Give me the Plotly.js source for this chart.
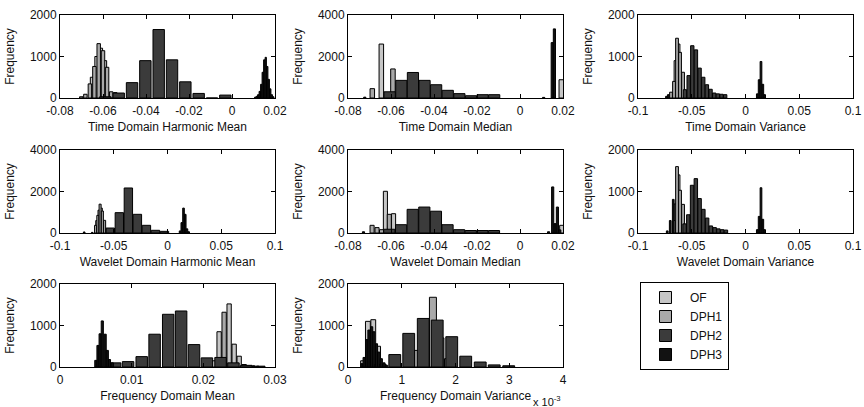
<!DOCTYPE html>
<html><head><meta charset="utf-8">
<script src="https://cdn.plot.ly/plotly-3.0.1.min.js"></script>
<style>html,body{margin:0;padding:0;background:#fff}#chart{width:864px;height:407px}</style>
</head><body><div id="chart"></div>
<script>
// ---------- DATA (bin centres and counts) ----------
const seriesNames = ['OF', 'DPH1', 'DPH2', 'DPH3'];
const panelTitles = ['Time Domain Harmonic Mean', 'Time Domain Median', 'Time Domain Variance',
  'Wavelet Domain Harmonic Mean', 'Wavelet Domain Median', 'Wavelet Domain Variance',
  'Frequency Domain Mean', 'Frequency Domain Variance'];

// 1 Time Domain Harmonic Mean
const tdhm_OF_x = [-0.0651, -0.0630, -0.0610, -0.0591];
const tdhm_OF_y = [500, 1000, 1200, 900];
const tdhm_DPH1_x = [-0.0701, -0.0682, -0.0661, -0.0640, -0.0620, -0.0600, -0.0581, -0.0562, -0.0543];
const tdhm_DPH1_y = [30, 90, 340, 760, 1310, 1140, 740, 150, 130];
const tdhm_DPH2_x = [-0.0589, -0.0527, -0.0465, -0.0403, -0.0341, -0.0279, -0.0217, -0.0155, -0.0093, -0.0031];
const tdhm_DPH2_y = [30, 120, 370, 900, 1650, 920, 390, 110, 0, 70];
const tdhm_DPH3_x = [0.0108, 0.0115, 0.0122, 0.0129, 0.0136, 0.0143, 0.0150, 0.0157, 0.0164, 0.0171, 0.0178, 0.0185, 0.0192];
const tdhm_DPH3_y = [20, 40, 80, 160, 330, 620, 920, 980, 760, 450, 220, 80, 30];

// 2 Time Domain Median
const tdmed_OF_x = [-0.0645, 0.0192];
const tdmed_OF_y = [2600, 880];
const tdmed_DPH1_x = [-0.0687, -0.0591];
const tdmed_DPH1_y = [450, 1400];
const tdmed_DPH2_x = [-0.0606, -0.0552, -0.0498, -0.0444, -0.0390, -0.0336, -0.0282, -0.0228, -0.0174, -0.0120];
const tdmed_DPH2_y = [300, 850, 1230, 850, 640, 370, 210, 110, 160, 160];
const tdmed_DPH3_x = [-0.0722, 0.0110, 0.0150, 0.0160];
const tdmed_DPH3_y = [40, 30, 2670, 3330];

// 3 Time Domain Variance
const tdvar_OF_x = [-0.0651, -0.0623];
const tdvar_OF_y = [900, 1300];
const tdvar_DPH1_x = [-0.0693, -0.0665, -0.0637, -0.0609, -0.0581];
const tdvar_DPH1_y = [140, 400, 1440, 1100, 620];
const tdvar_DPH2_x = [-0.0563, -0.0529, -0.0495, -0.0461, -0.0427, -0.0393, -0.0359, -0.0325, -0.0291, -0.0257, -0.0223, -0.0189];
const tdvar_DPH2_y = [200, 540, 1260, 1160, 720, 500, 320, 210, 120, 100, 90, 80];
const tdvar_DPH3_x = [-0.0735, -0.0718, 0.0110, 0.0127, 0.0144, 0.0161, 0.0178];
const tdvar_DPH3_y = [40, 80, 100, 440, 880, 330, 80];

// 4 Wavelet Domain Harmonic Mean
const wdhm_OF_x = [-0.0658, -0.0637, -0.0616];
const wdhm_OF_y = [600, 1100, 1200];
const wdhm_DPH1_x = [-0.0669, -0.0648, -0.0627, -0.0606, -0.0585, -0.0564];
const wdhm_DPH1_y = [370, 850, 1390, 1060, 610, 160];
const wdhm_DPH2_x = [-0.0532, -0.0448, -0.0364, -0.0280, -0.0196, -0.0112, -0.0028];
const wdhm_DPH2_y = [240, 980, 2170, 900, 370, 130, 80];
const wdhm_DPH3_x = [-0.0775, -0.0700, 0.0117, 0.0133, 0.0149, 0.0165, 0.0181, 0.0197];
const wdhm_DPH3_y = [50, 30, 100, 500, 1200, 900, 200, 60];

// 5 Wavelet Domain Median
const wdmed_OF_x = [-0.0626, -0.0588, 0.0194];
const wdmed_OF_y = [2010, 930, 370];
const wdmed_DPH1_x = [-0.0688, -0.0665, -0.0644, -0.0608];
const wdmed_DPH1_y = [370, 260, 160, 900];
const wdmed_DPH2_x = [-0.0608, -0.0553, -0.0499, -0.0445, -0.0391, -0.0337, -0.0283, -0.0229, -0.0175, -0.0121];
const wdmed_DPH2_y = [180, 400, 1140, 1250, 1050, 400, 160, 120, 120, 120];
const wdmed_DPH3_x = [-0.0728, 0.0133, 0.0152, 0.0163, 0.0174, 0.0185];
const wdmed_DPH3_y = [60, 60, 2220, 450, 1250, 150];

// 6 Wavelet Domain Variance
const wdvar_OF_x = [-0.0651, -0.0623];
const wdvar_OF_y = [700, 1400];
const wdvar_DPH1_x = [-0.0665, -0.0637, -0.0609, -0.0581];
const wdvar_DPH1_y = [300, 1600, 1030, 690];
const wdvar_DPH2_x = [-0.0567, -0.0532, -0.0497, -0.0462, -0.0427, -0.0392, -0.0357, -0.0322, -0.0287, -0.0252, -0.0217, -0.0182];
const wdvar_DPH2_y = [220, 440, 1150, 1310, 830, 570, 360, 170, 130, 100, 80, 70];
const wdvar_DPH3_x = [-0.0728, -0.0700, -0.0672, 0.0110, 0.0127, 0.0144, 0.0161, 0.0178];
const wdvar_DPH3_y = [50, 300, 810, 80, 400, 1090, 330, 80];

// 7 Frequency Domain Mean
const fdmean_OF_x = [0.0215, 0.0222, 0.0236, 0.0243, 0.0250, 0.0257];
const fdmean_OF_y = [150, 850, 1520, 550, 260, 60];
const fdmean_DPH1_x = [0.0229, 0.0264];
const fdmean_DPH1_y = [1320, 30];
const fdmean_DPH2_x = [0.0077, 0.0095, 0.0114, 0.0132, 0.0151, 0.0169, 0.0187, 0.0205, 0.0224, 0.0242, 0.0260, 0.0278];
const fdmean_DPH2_y = [100, 130, 250, 790, 1270, 1350, 540, 220, 230, 100, 40, 20];
const fdmean_DPH3_x = [0.0050, 0.0053, 0.0056, 0.0059, 0.0063, 0.0066, 0.0069, 0.0073, 0.0270, 0.0276];
const fdmean_DPH3_y = [160, 520, 800, 1110, 790, 400, 180, 100, 30, 20];

// 8 Frequency Domain Variance
const fdvar_OF_x = [0.00028, 0.00037, 0.00047, 0.00056];
const fdvar_OF_y = [150, 1100, 1140, 500];
const fdvar_DPH1_x = [0.00130, 0.00144, 0.00158, 0.00172, 0.00186];
const fdvar_DPH1_y = [400, 900, 1680, 700, 200];
const fdvar_DPH2_x = [0.00060, 0.00087, 0.00113, 0.00140, 0.00166, 0.00193, 0.00219, 0.00246, 0.00272, 0.00299];
const fdvar_DPH2_y = [60, 300, 810, 1170, 1130, 730, 260, 120, 50, 30];
const fdvar_DPH3_x = [0.00026, 0.00030, 0.00035, 0.00039, 0.00044, 0.00048, 0.00053, 0.00057, 0.00062, 0.00067, 0.00072];
const fdvar_DPH3_y = [80, 230, 660, 890, 970, 850, 560, 360, 200, 100, 40];

// tick values and labels
const tickV_a = [-0.08, -0.06, -0.04, -0.02, 0, 0.02];
const tickT_a = ['-0.08', '-0.06', '-0.04', '-0.02', '0', '0.02'];
const tickV_b = [-0.1, -0.05, 0, 0.05, 0.1];
const tickT_b = ['-0.1', '-0.05', '0', '0.05', '0.1'];
const tickV_c = [0, 0.01, 0.02, 0.03];
const tickT_c = ['0', '0.01', '0.02', '0.03'];
const tickV_d = [0, 0.001, 0.002, 0.003, 0.004];
const tickT_d = ['0', '1', '2', '3', '4'];
const yTick2k = [0, 1000, 2000];
const yTick4k = [0, 2000, 4000];

// ---------- STYLE / LAYOUT ----------
const colors = {OF: '#c6c6c6', DPH1: '#a9a9a9', DPH2: '#3b3b3b', DPH3: '#121212'};
const panels = [
  {d: {OF: [tdhm_OF_x, tdhm_OF_y], DPH1: [tdhm_DPH1_x, tdhm_DPH1_y], DPH2: [tdhm_DPH2_x, tdhm_DPH2_y], DPH3: [tdhm_DPH3_x, tdhm_DPH3_y]},
   w: {OF: 0.0016, DPH1: 0.0016, DPH2: 0.0053, DPH3: 0.0006}, xr: [-0.08, 0.02], yr: [0, 2000], tv: tickV_a, tt: tickT_a, yt: yTick2k},
  {d: {OF: [tdmed_OF_x, tdmed_OF_y], DPH1: [tdmed_DPH1_x, tdmed_DPH1_y], DPH2: [tdmed_DPH2_x, tdmed_DPH2_y], DPH3: [tdmed_DPH3_x, tdmed_DPH3_y]},
   w: {OF: 0.0021, DPH1: 0.0021, DPH2: 0.0052, DPH3: 0.001}, xr: [-0.08, 0.02], yr: [0, 4000], tv: tickV_a, tt: tickT_a, yt: yTick4k},
  {d: {OF: [tdvar_OF_x, tdvar_OF_y], DPH1: [tdvar_DPH1_x, tdvar_DPH1_y], DPH2: [tdvar_DPH2_x, tdvar_DPH2_y], DPH3: [tdvar_DPH3_x, tdvar_DPH3_y]},
   w: {OF: 0.0026, DPH1: 0.0026, DPH2: 0.0031, DPH3: 0.0016}, xr: [-0.1, 0.1], yr: [0, 2000], tv: tickV_b, tt: tickT_b, yt: yTick2k},
  {d: {OF: [wdhm_OF_x, wdhm_OF_y], DPH1: [wdhm_DPH1_x, wdhm_DPH1_y], DPH2: [wdhm_DPH2_x, wdhm_DPH2_y], DPH3: [wdhm_DPH3_x, wdhm_DPH3_y]},
   w: {OF: 0.0019, DPH1: 0.0019, DPH2: 0.0078, DPH3: 0.0015}, xr: [-0.1, 0.1], yr: [0, 4000], tv: tickV_b, tt: tickT_b, yt: yTick4k},
  {d: {OF: [wdmed_OF_x, wdmed_OF_y], DPH1: [wdmed_DPH1_x, wdmed_DPH1_y], DPH2: [wdmed_DPH2_x, wdmed_DPH2_y], DPH3: [wdmed_DPH3_x, wdmed_DPH3_y]},
   w: {OF: 0.0019, DPH1: 0.0019, DPH2: 0.0052, DPH3: 0.001}, xr: [-0.08, 0.02], yr: [0, 4000], tv: tickV_a, tt: tickT_a, yt: yTick4k},
  {d: {OF: [wdvar_OF_x, wdvar_OF_y], DPH1: [wdvar_DPH1_x, wdvar_DPH1_y], DPH2: [wdvar_DPH2_x, wdvar_DPH2_y], DPH3: [wdvar_DPH3_x, wdvar_DPH3_y]},
   w: {OF: 0.0026, DPH1: 0.0026, DPH2: 0.0032, DPH3: 0.0016}, xr: [-0.1, 0.1], yr: [0, 2000], tv: tickV_b, tt: tickT_b, yt: yTick2k},
  {d: {OF: [fdmean_OF_x, fdmean_OF_y], DPH1: [fdmean_DPH1_x, fdmean_DPH1_y], DPH2: [fdmean_DPH2_x, fdmean_DPH2_y], DPH3: [fdmean_DPH3_x, fdmean_DPH3_y]},
   w: {OF: 0.0006, DPH1: 0.0006, DPH2: 0.0016, DPH3: 0.0003}, xr: [0, 0.03], yr: [0, 2000], tv: tickV_c, tt: tickT_c, yt: yTick2k},
  {d: {OF: [fdvar_OF_x, fdvar_OF_y], DPH1: [fdvar_DPH1_x, fdvar_DPH1_y], DPH2: [fdvar_DPH2_x, fdvar_DPH2_y], DPH3: [fdvar_DPH3_x, fdvar_DPH3_y]},
   w: {OF: 0.00009, DPH1: 0.00013, DPH2: 0.00022, DPH3: 0.00004}, xr: [0, 0.004], yr: [0, 2000], tv: tickV_d, tt: tickT_d, yt: yTick2k}
];

const W = 864, H = 407;
const colLeft = [60, 348, 638], boxW = 215;
const rowTop = [15, 150, 284], boxH = 83;
const font = {family: 'Liberation Sans, Arial, sans-serif', size: 12, color: '#111'};

const traces = [];
const layout = {
  width: W, height: H, margin: {l: 0, r: 0, t: 0, b: 0},
  paper_bgcolor: '#fff', plot_bgcolor: '#fff', font: font,
  barmode: 'overlay', showlegend: true,
  legend: {x: 640 / W, y: 1 - 282 / H, xanchor: 'left', yanchor: 'top',
    bordercolor: '#000', borderwidth: 1, bgcolor: '#fff', tracegroupgap: 0, itemwidth: 39,
    font: {family: font.family, size: 12, color: '#111'}},
  annotations: []
};

panels.forEach((p, i) => {
  const n = i + 1, sfx = n === 1 ? '' : String(n);
  const r = Math.floor(i / 3), c = i % 3;
  seriesNames.forEach(s => {
    traces.push({
      type: 'bar', name: s, legendgroup: s, showlegend: i === 0,
      x: p.d[s][0], y: p.d[s][1], width: p.w[s],
      xaxis: 'x' + sfx, yaxis: 'y' + sfx,
      marker: {color: colors[s], line: {color: '#000', width: 1}},
      hoverinfo: 'x+y+name'
    });
  });
  const common = {showgrid: false, zeroline: false, showline: true, linecolor: '#000', linewidth: 1,
    mirror: 'allticks', ticks: 'inside', ticklen: 4, tickcolor: '#000', tickfont: font, fixedrange: true};
  layout['xaxis' + sfx] = Object.assign({}, common, {
    domain: [colLeft[c] / W, (colLeft[c] + boxW) / W], anchor: 'y' + sfx,
    range: p.xr, tickmode: 'array', tickvals: p.tv, ticktext: p.tt, ticklabelstandoff: 2,
    title: {text: panelTitles[i], font: font, standoff: 5}
  });
  layout['yaxis' + sfx] = Object.assign({}, common, {
    domain: [1 - (rowTop[r] + boxH) / H, 1 - rowTop[r] / H], anchor: 'x' + sfx,
    range: p.yr, tickmode: 'array', tickvals: p.yt, ticktext: p.yt.map(String),
    title: {text: 'Frequency', font: font, standoff: 12}
  });
});

layout.annotations.push({xref: 'paper', yref: 'paper', x: (colLeft[1] + boxW) / W, y: 1 - 401 / H,
  xanchor: 'right', yanchor: 'middle', showarrow: false, text: 'x 10<sup>-3</sup>',
  font: {family: font.family, size: 11, color: '#111'}});

Plotly.newPlot('chart', traces, layout, {staticPlot: true, displayModeBar: false});
</script>
</body></html>
